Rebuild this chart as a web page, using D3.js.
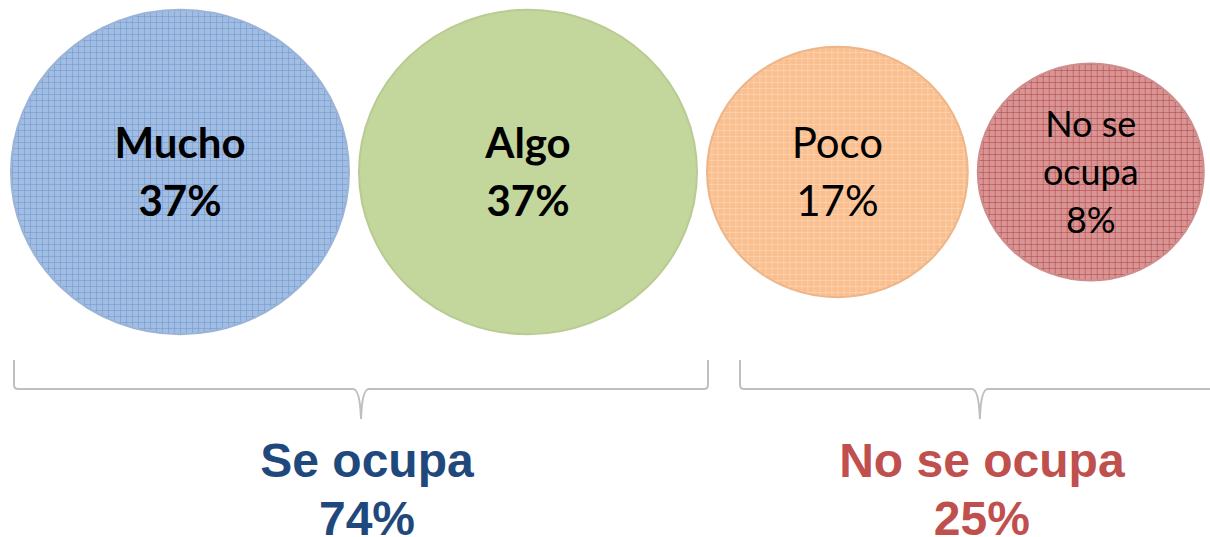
<!DOCTYPE html>
<html>
<head>
<meta charset="utf-8">
<script src="https://cdn.jsdelivr.net/npm/d3@7"></script>
<style>
  body { margin: 0; background: #fff; }
  .inner { font-family: Lato, "Open Sans", sans-serif; fill: #000; }
  .group { font-family: "Liberation Sans", Arial, sans-serif; font-weight: bold; }
</style>
</head>
<body>
<svg width="1210" height="537"></svg>
<script>
var categories = ["Mucho", "Algo", "Poco", "No se ocupa"];
var values = [37, 37, 17, 8];
var labelLines = [["Mucho"], ["Algo"], ["Poco"], ["No se", "ocupa"]];
var boldLabel = [true, true, false, false];

var groupNames = ["Se ocupa", "No se ocupa"];
var groupValues = [74, 25];
var groupMembers = [[0, 1], [2, 3]];

var fills = ["#a2bde2", "#c3d69b", "#fabf8f", "#d99594"];
var gridColors = ["#6f96cf", null, "#fddcc0", "#ae4548"];
var groupColors = ["#1f497d", "#c0504d"];

var svg = d3.select("svg"),
  cy = 172;

// radius from value
var r = d3.scaleLinear().domain([8, 37]).range([113, 169]);
var squash = 0.96;

// lay circles out left to right
var gap = 10, x0 = 11;
var nodes = values.map(function(v, i) {
  var rad = r(v);
  var n = { i: i, name: categories[i], value: v, r: rad, cx: x0 + rad };
  x0 += 2 * rad + gap;
  return n;
});

var defs = svg.append("defs");
fills.forEach(function(f, i) {
  var p = defs.append("pattern")
    .attr("id", "pat" + i)
    .attr("patternUnits", "userSpaceOnUse")
    .attr("width", 6)
    .attr("height", 6);
  p.append("rect").attr("width", 6).attr("height", 6).attr("fill", f);
  if (gridColors[i]) {
    p.append("rect").attr("width", 6).attr("height", 1)
      .attr("fill", gridColors[i]).attr("opacity", 0.55);
    p.append("rect").attr("width", 1).attr("height", 6)
      .attr("fill", gridColors[i]).attr("opacity", 0.55);
  }
});

var bubble = svg.selectAll("g.bubble")
  .data(nodes)
  .enter()
  .append("g")
  .attr("class", "bubble")
  .attr("transform", function(d) { return "translate(" + d.cx + "," + cy + ")"; });

bubble.append("ellipse")
  .attr("rx", function(d) { return d.r; })
  .attr("ry", function(d) { return d.r * squash; })
  .attr("fill", function(d) { return "url(#pat" + d.i + ")"; })
  .attr("stroke", function(d) { return d3.color(fills[d.i]).darker(0.15); })
  .attr("stroke-width", 2);

bubble.each(function(d) {
  var lines = labelLines[d.i].concat([d.value + "%"]);
  var big = lines.length === 2;
  var lh = big ? 58 : 48;
  var fs = big ? 42 : 36;
  var top = big ? -14 : -35;
  var t = d3.select(this).append("text")
    .attr("class", "inner")
    .attr("text-anchor", "middle")
    .style("font-size", fs + "px")
    .style("font-weight", boldLabel[d.i] ? "bold" : "normal");
  t.selectAll("tspan")
    .data(lines)
    .enter()
    .append("tspan")
    .attr("x", 0)
    .attr("y", function(s, k) { return top + k * lh; })
    .text(function(s) { return s; });
});

// braces under each group
var braceTop = 360, braceMid = 389, braceTip = 419;
var pad = [[3, 11], [33, 16]];
var labelShift = [6, 2];

function bracePath(a, b, m) {
  var c = 4;
  return "M" + a + "," + braceTop +
    "L" + a + "," + (braceMid - c) +
    "Q" + a + "," + braceMid + " " + (a + c) + "," + braceMid +
    "L" + (m - 8) + "," + braceMid +
    "Q" + (m - 1) + "," + braceMid + " " + m + "," + braceTip +
    "M" + b + "," + braceTop +
    "L" + b + "," + (braceMid - c) +
    "Q" + b + "," + braceMid + " " + (b - c) + "," + braceMid +
    "L" + (m + 8) + "," + braceMid +
    "Q" + (m + 1) + "," + braceMid + " " + m + "," + braceTip;
}

var groups = groupNames.map(function(name, g) {
  var first = nodes[groupMembers[g][0]],
    last = nodes[groupMembers[g][groupMembers[g].length - 1]];
  var a = first.cx - first.r + pad[g][0],
    b = last.cx + last.r + pad[g][1];
  return { name: name, value: groupValues[g], a: a, b: b, m: (a + b) / 2, g: g };
});

svg.selectAll("path.brace")
  .data(groups)
  .enter()
  .append("path")
  .attr("class", "brace")
  .attr("d", function(d) { return bracePath(d.a, d.b, d.m); })
  .attr("fill", "none")
  .attr("stroke", "#bfbfbf")
  .attr("stroke-width", 2);

var gl = svg.selectAll("text.group")
  .data(groups)
  .enter()
  .append("text")
  .attr("class", "group")
  .attr("text-anchor", "middle")
  .style("font-size", "48px")
  .attr("fill", function(d) { return groupColors[d.g]; });

gl.append("tspan")
  .attr("x", function(d) { return d.m + labelShift[d.g]; })
  .attr("y", 477)
  .text(function(d) { return d.name; });

gl.append("tspan")
  .attr("x", function(d) { return d.m + labelShift[d.g]; })
  .attr("y", 535)
  .text(function(d) { return d.value + "%"; });
</script>
</body>
</html>
